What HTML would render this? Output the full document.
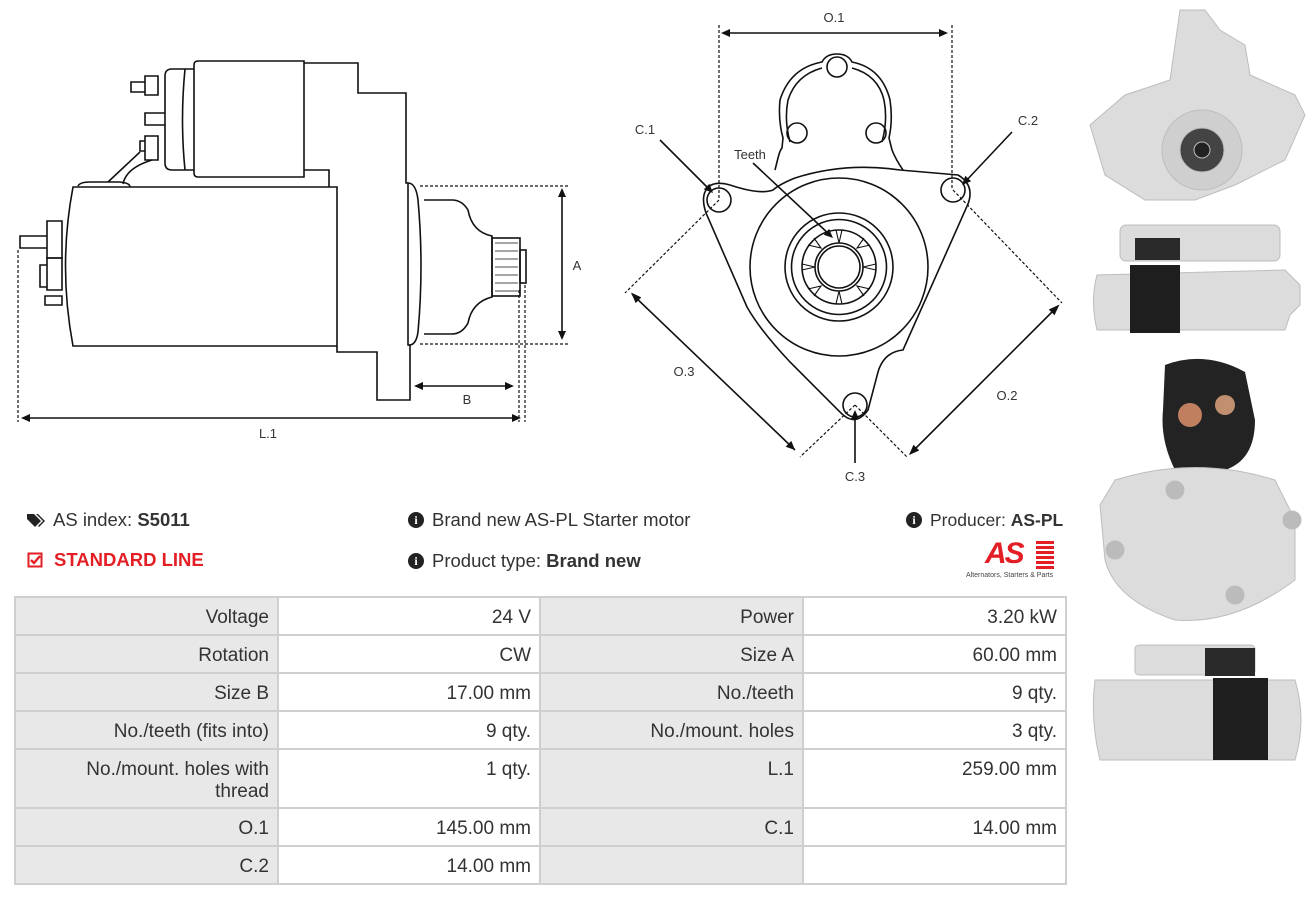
<!DOCTYPE html>
<html><head><meta charset="utf-8"><style>
body{margin:0;width:1316px;height:898px;background:#fff;position:relative;overflow:hidden;font-family:"Liberation Sans",Arial,sans-serif;color:#333}
.a{position:absolute}
.c{position:absolute;box-sizing:border-box;border:1px solid #cfcfcf;text-align:right;padding:9px 8px 0 24px;font-size:19px;line-height:22px}
.g{background:#e8e8e8}
.t{font-size:18.5px;color:#333;position:absolute;white-space:nowrap}
</style></head><body>
<svg class="a" style="left:0;top:0" width="1080" height="495" viewBox="0 0 1080 495" fill="none" stroke="#111" stroke-width="1.6" font-family="Liberation Sans, sans-serif">
<!-- side view -->
<path d="M73,187 Q58,266 73,346 L337,346 L337,187 Z"/>
<path d="M198,61 L304,61 L304,177 L198,177 Q194,177 194,173 L194,65 Q194,61 198,61Z"/>
<path d="M194,69 L172,69 Q165,69 165,76 L165,163 Q165,170 172,170 L194,170"/>
<path d="M185,69 Q180,120 185,170"/>
<path d="M304,63 L358,63 L358,93 L406,93 L406,183 L408,183"/>
<path d="M304,170 L329,170 L329,187"/>
<path d="M337,346 L337,352 L377,352 L377,400 L410,400 L410,345"/>
<path d="M408,183 Q416,183 418,200 Q424,266 418,332 Q416,346 408,345 Z"/>
<path d="M424,200 L452,200 Q462,200 468,210 Q472,232 492,236 L492,297 Q472,302 468,323 Q462,334 452,334 L424,334"/>
<rect x="492" y="238" width="28" height="58"/>
<path d="M495,243H518M495,251H518M495,259H518M495,267H518M495,275H518M495,283H518M495,291H518" stroke-width="0.8"/>
<rect x="520" y="250" width="6" height="33"/>
<path d="M145,76 L158,76 L158,95 L145,95Z M131,82 L145,82 L145,92 L131,92Z"/>
<path d="M145,136 L158,136 L158,160 L145,160Z M140,141 L145,141 L145,151 L140,151Z"/>
<path d="M165,113 L145,113 L145,125 L165,125"/>
<path d="M140,152 L108,182 M152,160 Q126,168 123,184"/>
<path d="M78,186 Q80,182 90,182 L120,182 Q130,183 130,187"/>
<path d="M47,221 L62,221 L62,258 L47,258 Z M20,236 L47,236 L47,248 L20,248Z"/>
<path d="M40,265 L47,265 L47,287 L40,287Z M47,258 L62,258 L62,290 L47,290Z"/>
<path d="M45,296 L62,296 L62,305 L45,305Z"/>
<g stroke-dasharray="3,2" stroke-width="1.2"><path d="M420,186H568M420,344H568M519,290V422M525,285V422M18,250V422"/></g>
<path d="M562,190V338M416,386H512M26,418H516"/>
<!-- front view -->
<g stroke-dasharray="3,2" stroke-width="1.2"><path d="M719,25V200M952,25V190M719,200L625,293M855,405L800,457M953,190L1062,303M855,405L908,458"/></g>
<path d="M725,33H946M632,294L795,450M1058,306L910,454"/>
<path d="M660,140L711,191M1012,132L964,183M855,463V412M753,163L831,236"/>
<g fill="#111" stroke="none">
<polygon points="558,197 562,188 566,197"/><polygon points="558,331 562,340 566,331"/>
<polygon points="423,382 414,386 423,390"/><polygon points="505,382 514,386 505,390"/>
<polygon points="30,414 21,418 30,422"/><polygon points="512,414 521,418 512,422"/>
<polygon points="730,29 721,33 730,37"/><polygon points="939,29 948,33 939,37"/>
<polygon points="635.7,303.1 631,292.5 641.3,297.4"/><polygon points="785.7,446.7 795,450 791.3,440.9"/>
<polygon points="1054.5,315.2 1059.5,304.5 1048.8,309.5"/><polygon points="919.2,450.5 909,455 913.5,444.8"/>
<polygon points="703.8,189.4 713,193 709.4,183.8"/>
<polygon points="971.1,181.2 962,185 965.3,175.8"/>
<polygon points="851,419 855,410 859,419"/>
<polygon points="823.7,234.7 833,238 829.1,228.9"/>
</g>
<path d="M775,170 L778,158 Q780,150 782,148 L783,138 Q778,120 780,100 Q790,68 822,62 Q826,54 837,54 Q848,54 852,62 Q882,68 890,100 Q893,120 889,138 L892,150 Q896,160 903,170"/>
<path d="M790,142 Q784,120 788,100 Q796,75 822,68 M852,68 Q878,75 884,100 Q888,120 882,142"/>
<circle cx="837" cy="67" r="10"/><circle cx="797" cy="133" r="10"/><circle cx="876" cy="133" r="10"/>
<path d="M773,190 Q760,195 730,185 Q712,180 706,190 Q701,198 706,213 L747,307 Q760,330 790,362 L840,412 Q855,428 868,410 L878,372 Q884,352 903,350 L968,204 Q975,185 958,175 L900,170 Q845,162 795,178 Q780,184 773,190Z"/>
<circle cx="719" cy="200" r="12"/><circle cx="953" cy="190" r="12"/><circle cx="855" cy="405" r="12"/>
<circle cx="839" cy="267" r="89"/><circle cx="839" cy="267" r="54"/><circle cx="839" cy="267" r="47.5"/><circle cx="839" cy="267" r="37"/><circle cx="839" cy="267" r="24"/><circle cx="839" cy="267" r="21"/>
<g stroke-width="1.1">
<path d="M836,230L839,243L842,230M864,238L857,248L870,245M876,264L863,267L876,270M870,289L857,286L864,296M842,304L839,291L836,304M814,296L821,286L808,289M802,270L815,267L802,264M808,245L821,248L814,238"/>
</g>
<g fill="#333" stroke="none" font-size="13" text-anchor="middle">
<text x="834" y="22">O.1</text><text x="645" y="134">C.1</text><text x="1028" y="125">C.2</text><text x="750" y="159">Teeth</text><text x="855" y="481">C.3</text><text x="684" y="376">O.3</text><text x="1007" y="400">O.2</text>
<text x="577" y="270">A</text><text x="467" y="404">B</text><text x="268" y="438">L.1</text>
</g>
</svg>
<!-- photos -->
<svg class="a" style="left:1085px;top:0" width="231" height="780" viewBox="0 0 231 780">
<g fill="#dcdcdc" stroke="#bdbdbd">
<path d="M5,125 L40,95 L85,80 L95,10 L120,10 L135,30 L160,45 L165,75 L210,95 L220,115 L200,160 L150,185 L110,200 L60,200 L20,175 Z"/>
<circle cx="117" cy="150" r="40" fill="#cfcfcf"/>
<circle cx="117" cy="150" r="22" fill="#444"/><circle cx="117" cy="150" r="8" fill="#222"/>
<rect x="35" y="225" width="160" height="36" rx="6"/>
<path d="M12,275 Q5,300 12,330 L200,330 L205,315 L215,305 L215,285 L200,270 Z"/>
<rect x="45" y="265" width="50" height="68" fill="#1e1e1e" stroke="none"/>
<rect x="50" y="238" width="45" height="22" fill="#2a2a2a" stroke="none"/>
<path d="M80,365 Q120,350 160,372 L170,420 Q170,460 140,470 L90,470 Q75,440 78,410Z" fill="#232323" stroke="none"/>
<circle cx="105" cy="415" r="12" fill="#c08060" stroke="none"/><circle cx="140" cy="405" r="10" fill="#c09070" stroke="none"/>
<path d="M30,480 Q110,455 190,480 L210,520 L210,580 Q150,625 90,620 Q30,600 20,560 L15,505Z"/>
<circle cx="90" cy="490" r="9" fill="#bbb"/><circle cx="207" cy="520" r="9" fill="#bbb"/><circle cx="30" cy="550" r="9" fill="#bbb"/><circle cx="150" cy="595" r="9" fill="#bbb"/>
<rect x="50" y="645" width="120" height="30" rx="4"/>
<path d="M10,680 Q5,720 15,760 L210,760 Q222,720 210,680 Z"/>
<rect x="128" y="678" width="55" height="82" fill="#1e1e1e" stroke="none"/>
<rect x="120" y="648" width="50" height="28" fill="#2a2a2a" stroke="none"/>
</g></svg>
<!-- info -->
<svg class="a" style="left:26px;top:512px" width="20" height="16"><path d="M1,2 L8,2 L15,9 L9,15 L1,7Z" fill="#222"/><path d="M10,2 L12,2 L19,9 L13,15 L12,14 L17,9Z" fill="#222"/></svg>
<div class="t" style="left:53px;top:509px">AS index: <b>S5011</b></div>
<svg class="a" style="left:27px;top:552px" width="17" height="17"><rect x="1.5" y="1.5" width="13" height="13" fill="none" stroke="#e31e24" stroke-width="2"/><path d="M4,8 L7,11 L13,4" fill="none" stroke="#e31e24" stroke-width="2.4"/></svg>
<div class="t" style="left:54px;top:549px;color:#e31e24;font-weight:bold">STANDARD LINE</div>
<div class="a" style="left:408px;top:512px;width:16px;height:16px;border-radius:50%;background:#222;color:#fff;font:bold 12px/16px 'Liberation Serif',serif;text-align:center">i</div>
<div class="t" style="left:432px;top:509px">Brand new AS-PL Starter motor</div>
<div class="a" style="left:408px;top:553px;width:16px;height:16px;border-radius:50%;background:#222;color:#fff;font:bold 12px/16px 'Liberation Serif',serif;text-align:center">i</div>
<div class="t" style="left:432px;top:550px">Product type: <b>Brand new</b></div>
<div class="a" style="left:906px;top:512px;width:16px;height:16px;border-radius:50%;background:#222;color:#fff;font:bold 12px/16px 'Liberation Serif',serif;text-align:center">i</div>
<div class="t" style="left:930px;top:510px;font-size:17.5px">Producer: <b>AS-PL</b></div>
<div class="a" style="left:985px;top:538px;font:italic bold 30px/32px 'Liberation Sans',sans-serif;color:#e31e24;letter-spacing:-2px">AS</div>
<div class="a" style="left:1036px;top:541px;width:18px;height:28px;background:repeating-linear-gradient(#e31e24 0 3px,#fff 3px 5px)"></div>
<div class="a" style="left:966px;top:572px;font-size:7px;color:#444;white-space:nowrap">Alternators, Starters &amp; Parts</div>
<!-- table -->
<div class="a" style="left:14px;top:596px;width:1053px;height:289px;border:1px solid #cfcfcf;box-sizing:border-box"></div>
<div class="c g" style="left:15px;top:597px;width:263px;height:38px">Voltage</div><div class="c" style="left:278px;top:597px;width:262px;height:38px">24 V</div><div class="c g" style="left:540px;top:597px;width:263px;height:38px">Power</div><div class="c" style="left:803px;top:597px;width:263px;height:38px">3.20 kW</div>
<div class="c g" style="left:15px;top:635px;width:263px;height:38px">Rotation</div><div class="c" style="left:278px;top:635px;width:262px;height:38px">CW</div><div class="c g" style="left:540px;top:635px;width:263px;height:38px">Size A</div><div class="c" style="left:803px;top:635px;width:263px;height:38px">60.00 mm</div>
<div class="c g" style="left:15px;top:673px;width:263px;height:38px">Size B</div><div class="c" style="left:278px;top:673px;width:262px;height:38px">17.00 mm</div><div class="c g" style="left:540px;top:673px;width:263px;height:38px">No./teeth</div><div class="c" style="left:803px;top:673px;width:263px;height:38px">9 qty.</div>
<div class="c g" style="left:15px;top:711px;width:263px;height:38px">No./teeth (fits into)</div><div class="c" style="left:278px;top:711px;width:262px;height:38px">9 qty.</div><div class="c g" style="left:540px;top:711px;width:263px;height:38px">No./mount. holes</div><div class="c" style="left:803px;top:711px;width:263px;height:38px">3 qty.</div>
<div class="c g" style="left:15px;top:749px;width:263px;height:59px">No./mount. holes with<br>thread</div><div class="c" style="left:278px;top:749px;width:262px;height:59px">1 qty.</div><div class="c g" style="left:540px;top:749px;width:263px;height:59px">L.1</div><div class="c" style="left:803px;top:749px;width:263px;height:59px">259.00 mm</div>
<div class="c g" style="left:15px;top:808px;width:263px;height:38px">O.1</div><div class="c" style="left:278px;top:808px;width:262px;height:38px">145.00 mm</div><div class="c g" style="left:540px;top:808px;width:263px;height:38px">C.1</div><div class="c" style="left:803px;top:808px;width:263px;height:38px">14.00 mm</div>
<div class="c g" style="left:15px;top:846px;width:263px;height:38px">C.2</div><div class="c" style="left:278px;top:846px;width:262px;height:38px">14.00 mm</div><div class="c g" style="left:540px;top:846px;width:263px;height:38px"></div><div class="c" style="left:803px;top:846px;width:263px;height:38px"></div>
</body></html>
